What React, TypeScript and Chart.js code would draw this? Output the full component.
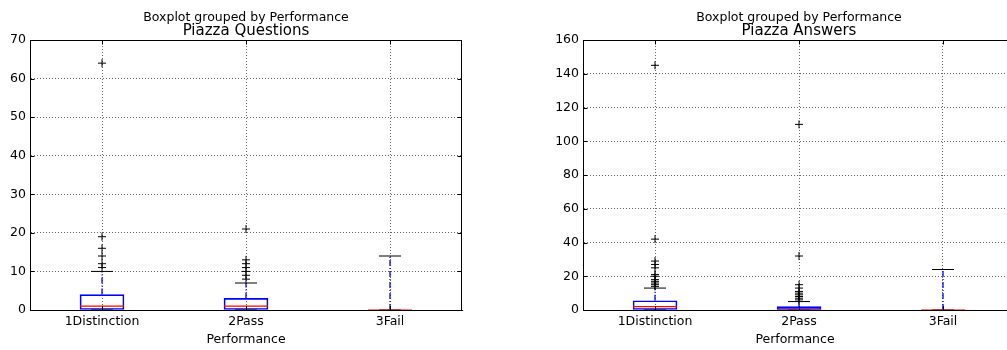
import React, { useEffect, useRef } from 'react';
import { Chart, registerables } from 'chart.js';

Chart.register(...registerables);

const FONT = '"DejaVu Sans", sans-serif';

const categories = ['1Distinction', '2Pass', '3Fail'];
const categoryPositions = [1, 2, 3];
const xLabel = 'Performance';
const suptitle = 'Boxplot grouped by Performance';

const questionsTitle = 'Piazza Questions';
const questionsYTicks = [0, 10, 20, 30, 40, 50, 60, 70];
const questionsWhiskerLow = [0, 0, 0];
const questionsQ1 = [0, 0, 0];
const questionsMedian = [1, 1, 0];
const questionsQ3 = [4, 3, 0];
const questionsWhiskerHigh = [10, 7, 14];
const questionsFliers = [[64, 19, 16, 14, 12, 11], [21, 13, 12, 11, 10, 9, 8], []];

const answersTitle = 'Piazza Answers';
const answersYTicks = [0, 20, 40, 60, 80, 100, 120, 140, 160];
const answersWhiskerLow = [0, 0, 0];
const answersQ1 = [0, 0, 0];
const answersMedian = [2, 0, 0];
const answersQ3 = [5.5, 2, 0];
const answersWhiskerHigh = [13, 5, 24];
const answersFliers = [
  [145, 42, 29, 27, 25, 21, 20, 18, 17, 16, 15, 14],
  [110, 32, 15, 13, 11, 10, 9, 8, 7, 6],
  [],
];

type Panel = {
  title: string;
  yTicks: number[];
  lo: number[];
  q1: number[];
  med: number[];
  q3: number[];
  hi: number[];
  fliers: number[][];
  yAxisWidth: number;
  padRight: number;
  xMax: number;
  rightBorder: boolean;
};

const questionsPanel: Panel = {
  title: questionsTitle,
  yTicks: questionsYTicks,
  lo: questionsWhiskerLow,
  q1: questionsQ1,
  med: questionsMedian,
  q3: questionsQ3,
  hi: questionsWhiskerHigh,
  fliers: questionsFliers,
  yAxisWidth: 30,
  padRight: 38,
  xMax: 3.5,
  rightBorder: true,
};

const answersPanel: Panel = {
  title: answersTitle,
  yTicks: answersYTicks,
  lo: answersWhiskerLow,
  q1: answersQ1,
  med: answersMedian,
  q3: answersQ3,
  hi: answersWhiskerHigh,
  fliers: answersFliers,
  yAxisWidth: 83,
  padRight: 0,
  xMax: 3.5 - 8 / 144,
  rightBorder: false,
};

function buildDatasets(p: Panel): any[] {
  const boxes = categoryPositions.map((x, i) => ({ x, y: [p.q1[i], p.q3[i]] }));
  const whiskers: any[] = [];
  categoryPositions.forEach((x, i) => {
    whiskers.push({ x, y: p.q3[i] }, { x, y: p.hi[i] }, { x, y: null });
    whiskers.push({ x, y: p.lo[i] }, { x, y: p.q1[i] }, { x, y: null });
  });
  const caps = categoryPositions.flatMap((x, i) => [
    { x, y: p.lo[i] },
    { x, y: p.hi[i] },
  ]);
  const medians = categoryPositions.map((x, i) => ({ x, y: p.med[i] }));
  const fliers = categoryPositions.flatMap((x, i) => p.fliers[i].map((y) => ({ x, y })));
  return [
    {
      type: 'scatter',
      label: 'median',
      data: medians,
      pointStyle: 'line',
      pointRadius: 22,
      pointHoverRadius: 22,
      borderColor: '#ff0000',
      backgroundColor: '#ff0000',
      borderWidth: 1.2,
    },
    {
      type: 'scatter',
      label: 'fliers',
      data: fliers,
      pointStyle: 'cross',
      pointRadius: 4,
      pointHoverRadius: 4,
      borderColor: '#000000',
      backgroundColor: '#000000',
      borderWidth: 1,
    },
    {
      type: 'scatter',
      label: 'caps',
      data: caps,
      pointStyle: 'line',
      pointRadius: 11,
      pointHoverRadius: 11,
      borderColor: '#000000',
      backgroundColor: '#000000',
      borderWidth: 1,
    },
    {
      type: 'line',
      label: 'whiskers',
      data: whiskers,
      borderColor: '#0000ff',
      borderWidth: 1.3,
      borderDash: [6, 2, 1, 2],
      pointRadius: 0,
      pointHoverRadius: 0,
      spanGaps: false,
      fill: false,
      tension: 0,
    },
    {
      type: 'bar',
      label: 'box',
      data: boxes,
      backgroundColor: 'rgba(0,0,0,0)',
      borderColor: '#0000ff',
      borderWidth: 1,
      borderSkipped: false,
      barThickness: 44,
    },
  ];
}

const framePlugin = {
  id: 'frame',
  afterDraw(chart: any, _args: any, opts: any) {
    const { ctx, chartArea: a, scales } = chart;
    const xs = scales.x;
    const ys = scales.y;
    ctx.save();
    ctx.strokeStyle = '#000';
    ctx.lineWidth = 1;
    ctx.setLineDash([]);
    ctx.beginPath();
    ctx.moveTo(a.left, Math.round(a.top) + 0.5);
    ctx.lineTo(a.right, Math.round(a.top) + 0.5);
    if (opts.rightBorder) {
      ctx.moveTo(Math.round(a.right) - 0.5, a.top);
      ctx.lineTo(Math.round(a.right) - 0.5, a.bottom);
    }
    ys.ticks.forEach((t: any) => {
      const y = Math.round(ys.getPixelForValue(t.value)) + 0.5;
      ctx.moveTo(a.left, y);
      ctx.lineTo(a.left + 4.5, y);
      if (opts.rightBorder) {
        ctx.moveTo(a.right, y);
        ctx.lineTo(a.right - 4.5, y);
      }
    });
    xs.ticks.forEach((t: any) => {
      const x = Math.round(xs.getPixelForValue(t.value)) + 0.5;
      ctx.moveTo(x, a.bottom);
      ctx.lineTo(x, a.bottom - 4);
      ctx.moveTo(x, a.top);
      ctx.lineTo(x, a.top + 4.5);
    });
    ctx.stroke();
    const cx = (xs.getPixelForValue(0.5) + xs.getPixelForValue(3.5)) / 2;
    ctx.fillStyle = '#000';
    ctx.textAlign = 'center';
    ctx.textBaseline = 'alphabetic';
    ctx.font = `12.5px ${FONT}`;
    ctx.fillText(suptitle, cx, 21);
    ctx.font = `15px ${FONT}`;
    ctx.fillText(opts.title, cx, 34.5);
    ctx.restore();
  },
};

function makeConfig(p: Panel): any {
  const font = { family: FONT, size: 12.5 };
  return {
    type: 'bar',
    data: { datasets: buildDatasets(p) },
    plugins: [framePlugin],
    options: {
      animation: false,
      responsive: false,
      devicePixelRatio: 1,
      events: [],
      layout: {
        autoPadding: false,
        padding: { top: 40, right: p.padRight, left: 0, bottom: 0 },
      },
      plugins: {
        legend: { display: false },
        tooltip: { enabled: false },
        title: { display: false },
        frame: { title: p.title, rightBorder: p.rightBorder },
      },
      scales: {
        x: {
          type: 'linear',
          min: 0.5,
          max: p.xMax,
          offset: false,
          afterBuildTicks: (s: any) => {
            s.ticks = categoryPositions.map((v) => ({ value: v }));
          },
          afterFit: (s: any) => {
            s.height = 40;
            s.paddingLeft = 0;
            s.paddingRight = 0;
          },
          ticks: {
            callback: (v: number) => categories[categoryPositions.indexOf(v)],
            font,
            color: '#000',
            padding: 4,
            maxRotation: 0,
            autoSkip: false,
          },
          grid: { color: 'rgba(0,0,0,0.6)', lineWidth: 1, drawTicks: false, offset: false },
          border: { display: true, color: '#000', width: 1, dash: [1, 2], z: 1 },
          title: {
            display: true,
            text: xLabel,
            font,
            color: '#000',
            padding: { top: 0, bottom: 3 },
          },
        },
        y: {
          type: 'linear',
          min: p.yTicks[0],
          max: p.yTicks[p.yTicks.length - 1],
          afterBuildTicks: (s: any) => {
            s.ticks = p.yTicks.map((v) => ({ value: v }));
          },
          afterFit: (s: any) => {
            s.width = p.yAxisWidth;
            s.paddingTop = 0;
            s.paddingBottom = 0;
          },
          ticks: {
            callback: (v: number) => String(v),
            font,
            color: '#000',
            padding: 4,
          },
          grid: { color: 'rgba(0,0,0,0.6)', lineWidth: 1, drawTicks: false },
          border: { display: true, color: '#000', width: 1, dash: [1, 2], z: 1 },
        },
      },
    },
  };
}

function BoxPanel({ left, width, panel }: { left: number; width: number; panel: Panel }) {
  const ref = useRef<HTMLCanvasElement | null>(null);
  useEffect(() => {
    if (!ref.current) return;
    const chart = new Chart(ref.current, makeConfig(panel));
    return () => chart.destroy();
  }, [panel]);
  return (
    <canvas
      ref={ref}
      width={width}
      height={350}
      style={{ position: 'absolute', left, top: 0, width, height: 350, display: 'block' }}
    />
  );
}

export default function App() {
  return (
    <div
      style={{
        position: 'fixed',
        left: 0,
        top: 0,
        width: 1007,
        height: 350,
        background: '#fff',
        overflow: 'hidden',
      }}
    >
      <BoxPanel left={0} width={500} panel={questionsPanel} />
      <BoxPanel left={500} width={507} panel={answersPanel} />
    </div>
  );
}
